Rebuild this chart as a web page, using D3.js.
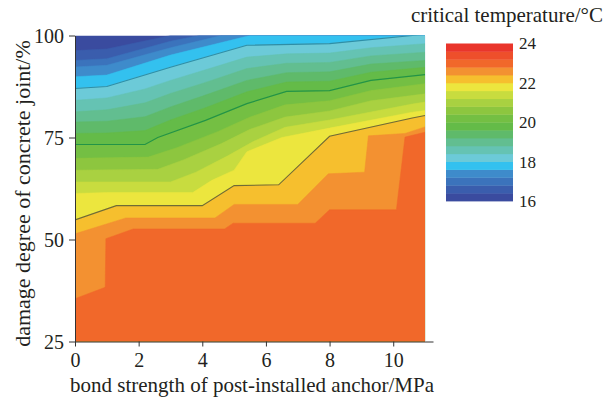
<!DOCTYPE html>
<html><head><meta charset="utf-8">
<script src="https://cdn.jsdelivr.net/npm/d3@7"></script>
<style>
html,body{margin:0;padding:0;background:#fff;}
svg{display:block;}
text{font-family:"Liberation Serif","Times New Roman",serif;fill:#231f20;}
</style></head>
<body>
<svg id="chart" width="611" height="397"></svg>
<script>
// ---- data ----
const xTicks = [0, 2, 4, 6, 8, 10];
const yTicks = [25, 50, 75, 100];
const cbTicks = [16, 18, 20, 22, 24];
const thresholds = [16.4, 16.8, 17.2, 17.6, 18.0, 18.4, 18.8, 19.2, 19.6, 20.0, 20.4, 20.8, 21.2, 21.6, 22.0, 22.4, 22.8];
const labeledLevels = [18, 20, 22];
const bandColors = ["#3a4b9f","#3a5dad","#3b73bc","#3e8bcb","#33c1ef","#6ccad8","#65c3b3","#62be90","#5fba6a","#64bb48",
                    "#74bf43","#8dc63f","#a9d141","#c8dc3f","#ece63e","#f6bf2e","#f39131","#f1682a","#ee4f2b","#e9352b"];
const lineColors = {18: "#2f8ea6", 20: "#229447", 22: "#6f6c36"};
// iso-temperature boundaries: [bond strength (MPa), damage degree (%)]
const iso164 = [[0,96.3],[1,96.7],[3,100],[11,100]];
const iso168 = [[0,93.9],[1,94.3],[3,98.6],[3.9,100],[11,100]];
const iso172 = [[0,92.3],[1,92.7],[3,97],[4.6,100],[11,100]];
const iso176 = [[0,89.9],[1,90.3],[3,95.2],[5.5,100],[11,100]];
const iso180 = [[0,87],[1,87.5],[3,92.2],[5.4,97.6],[8,98],[10.6,100],[11,100.3]];
const iso184 = [[0,84.1],[1,84.7],[2.2,86.9],[3,89],[4.1,91.6],[5.4,94.7],[6.65,95.5],[8,95.7],[9.3,97],[11,98]];
const iso188 = [[0,81.3],[1,81.8],[2.2,83.5],[3,85.8],[4.1,88.5],[5.4,91.9],[6.65,93.2],[8,93.4],[9.3,95],[11,95.9]];
const iso192 = [[0,78.8],[1,79],[2.2,80.1],[3,82.5],[4.1,85.4],[5.4,89],[6.65,90.9],[8,91.1],[9.3,93],[11,93.9]];
const iso196 = [[0,76],[1,76.1],[2.2,76.7],[3,79.3],[4.1,82.3],[5.4,86.2],[6.65,88.6],[8,88.8],[9.3,91],[11,92.2]];
const iso200 = [[0,73.3],[2.2,73.3],[2.6,75],[4.1,79.2],[5.4,83.3],[6.65,86.3],[8,86.5],[9.3,89],[11,90.4]];
const iso204 = [[0,69.9],[2.3,70.2],[3.2,72.5],[4.5,76.5],[5.5,80],[6.6,83],[8,84],[9.3,86.5],[11,88.2]];
const iso208 = [[0,67],[2.6,67.2],[3.4,69.5],[4.6,73.5],[5.5,77],[6.6,80],[8,81.5],[9.3,84],[11,85.7]];
const iso212 = [[0,64.1],[3,64.1],[3.8,66.5],[4.8,70.5],[5.6,74],[6.6,77.5],[8,79.3],[10.6,83.2],[11,83.7]];
const iso216 = [[0,61.3],[1,61.5],[3.7,61.5],[4.3,64.5],[5,67],[5.4,71.5],[6.5,75],[8,77.3],[10.6,81.2],[11,81.6]];
const iso220 = [[0,54.8],[1.3,58.3],[4,58.3],[5,63.2],[6.4,63.4],[8,75.3],[10.6,79.8],[11,80.4]];
const iso224 = [[0,51.4],[1.6,55.3],[4.4,55.3],[5,58.6],[7,58.6],[7.96,66.1],[9.1,66.5],[9.22,75.4],[10.37,76],[11,77.6]];
const iso228 = [[0,35.5],[0.95,38.3],[0.97,50.2],[1.83,52.6],[4.7,52.6],[4.97,54],[7.55,54],[8,57.3],[10.1,57.3],[10.37,75.1],[11,76.3]];
const isolines = [iso164, iso168, iso172, iso176, iso180, iso184, iso188, iso192, iso196, iso200,
                  iso204, iso208, iso212, iso216, iso220, iso224, iso228];

// ---- chart ----
const svg = d3.select("#chart");
const serif = '"Liberation Serif", "Times New Roman", serif';
const x = d3.scaleLinear().domain([0, 11.25]).range([75, 433]);
const y = d3.scaleLinear().domain([25, 100]).range([341.5, 35.5]);

svg.append("clipPath").attr("id", "plotClip")
  .append("rect").attr("x", x(0)).attr("y", y(100)).attr("width", x(11) - x(0)).attr("height", y(25) - y(100));

const plot = svg.append("g").attr("clip-path", "url(#plotClip)");
plot.append("rect").attr("x", x(0)).attr("y", y(100)).attr("width", x(11) - x(0)).attr("height", y(25) - y(100))
  .attr("fill", bandColors[0]);

const area = d3.area().x(d => x(d[0])).y0(y(25)).y1(d => y(d[1]));
isolines.forEach((pts, i) => {
  plot.append("path").attr("d", area(pts)).attr("fill", bandColors[i + 1])
    .attr("stroke", bandColors[i + 1]).attr("stroke-width", 0.5);
});
const line = d3.line().x(d => x(d[0])).y(d => y(d[1]));
labeledLevels.forEach(lv => {
  const idx = thresholds.findIndex(t => Math.abs(t - lv) < 1e-6);
  plot.append("path").attr("d", line(isolines[idx])).attr("fill", "none")
    .attr("stroke", lineColors[lv]).attr("stroke-width", 1.1);
});

// axes
const xAxis = svg.append("g").attr("transform", `translate(0,${y(25)})`)
  .call(d3.axisBottom(x).tickValues(xTicks).tickSize(5).tickSizeOuter(0).tickFormat(d3.format("d")));
const yAxis = svg.append("g").attr("transform", `translate(${x(0)},0)`)
  .call(d3.axisLeft(y).tickValues(yTicks).tickSize(6).tickSizeOuter(0));
[xAxis, yAxis].forEach(g => {
  g.attr("font-family", serif);
  g.selectAll("path.domain").attr("stroke", "#333").attr("stroke-width", 1);
  g.selectAll(".tick line").attr("stroke", "#333");
  g.selectAll("text").attr("font-family", serif).style("font-family", serif)
    .style("font-size", "20px").attr("fill", "#231f20");
});
xAxis.selectAll("text").attr("y", 25.5).attr("dy", 0);
yAxis.selectAll("text").attr("x", -11).attr("dy", "0.35em");

svg.append("text").attr("x", 252).attr("y", 392).attr("text-anchor", "middle")
  .style("font-size", "21px").text("bond strength of post-installed anchor/MPa");
svg.append("text").attr("transform", `translate(30,${(y(25) + y(100)) / 2 + 5}) rotate(-90)`)
  .attr("text-anchor", "middle").style("font-size", "22px").text("damage degree of concrete joint/%");

// colour bar
const cb = {x: 446, w: 67, top: 43.5, bottom: 201};
const cy = d3.scaleLinear().domain([16, 24]).range([cb.bottom, cb.top]);
const bandEdges = [16].concat(thresholds, [23.2, 23.6, 24]);
bandColors.forEach((c, i) => {
  svg.append("rect").attr("x", cb.x).attr("width", cb.w)
    .attr("y", cy(bandEdges[i + 1])).attr("height", cy(bandEdges[i]) - cy(bandEdges[i + 1]) + 0.4)
    .attr("fill", c);
});
cbTicks.forEach(t => {
  svg.append("text").attr("x", 519).attr("y", cy(t)).attr("dy", "0.35em")
    .style("font-size", "17px").text(t);
});
svg.append("text").attr("x", 603).attr("y", 22).attr("text-anchor", "end")
  .style("font-size", "21px").text("critical temperature/°C");
</script>
</body></html>
